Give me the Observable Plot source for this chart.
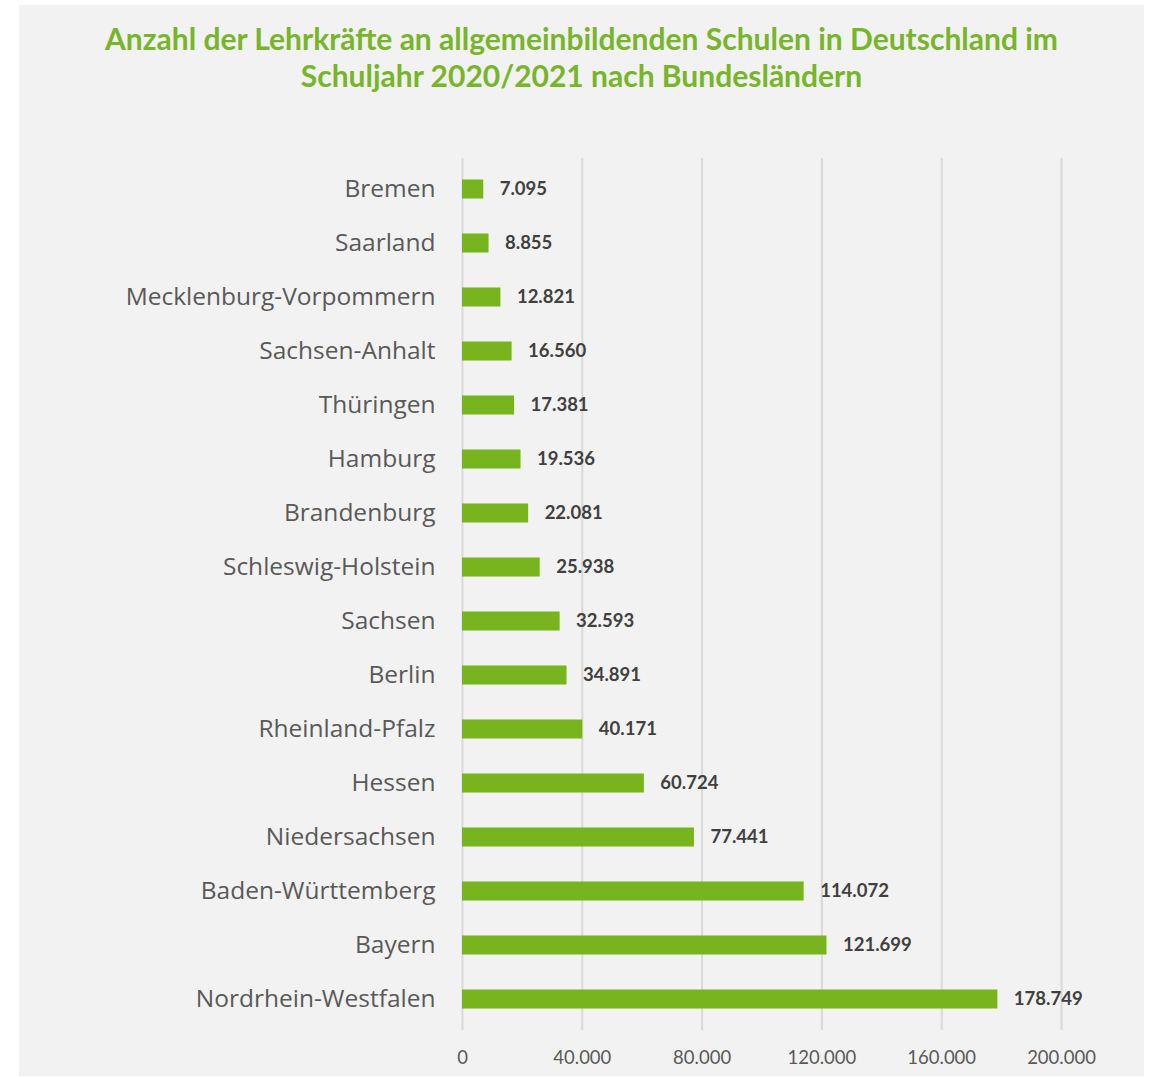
<!DOCTYPE html>
<html>
<head>
<meta charset="utf-8">
<script src="https://cdn.jsdelivr.net/npm/d3@7"></script>
<script src="https://cdn.jsdelivr.net/npm/@observablehq/plot@0.6"></script>
<style>
  html, body { margin: 0; padding: 0; background: #ffffff; }
  #panel { position: absolute; left: 19px; top: 5px; width: 1125px; height: 1071px; background: #f2f2f2; overflow: hidden; }
  #title { height: 115px; box-sizing: border-box; padding-top: 15px; text-align: center; color: #77b52b;
           font-family: Lato, "Open Sans", sans-serif; font-weight: bold; font-size: 30px; line-height: 37px; }
  #chart svg { display: block; }
</style>
</head>
<body>
<div id="panel">
  <div id="title">Anzahl der Lehrkräfte an allgemeinbildenden Schulen in Deutschland im<br>Schuljahr 2020/2021 nach Bundesländern</div>
  <div id="chart"></div>
</div>
<script>
const states = ["Bremen", "Saarland", "Mecklenburg-Vorpommern", "Sachsen-Anhalt", "Thüringen", "Hamburg",
  "Brandenburg", "Schleswig-Holstein", "Sachsen", "Berlin", "Rheinland-Pfalz", "Hessen", "Niedersachsen",
  "Baden-Württemberg", "Bayern", "Nordrhein-Westfalen"];
const teachers = [7095, 8855, 12821, 16560, 17381, 19536, 22081, 25938, 32593, 34891, 40171, 60724, 77441,
  114072, 121699, 178749];
const xTicks = [0, 40000, 80000, 120000, 160000, 200000];

const data = states.map((s, i) => ({state: s, value: teachers[i]}));
const de = d3.formatLocale({decimal: ",", thousands: ".", grouping: [3], currency: ["", " €"]});
const fmt = de.format(",d");

const chart = Plot.plot({
  width: 1125,
  height: 956,
  marginTop: 38,
  marginBottom: 46,
  marginLeft: 443,
  marginRight: 83,
  style: {background: "transparent", fontFamily: "Lato, 'Open Sans', sans-serif"},
  x: {domain: [0, 200000], ticks: xTicks, tickFormat: fmt},
  y: {domain: states, padding: 0},
  marks: [
    Plot.ruleX(xTicks, {stroke: "#d9d9d9", strokeWidth: 2, strokeOpacity: 1}),
    Plot.barX(data, {x: "value", y: "state", fill: "#78b41e", insetTop: 17.5, insetBottom: 17.5}),
    Plot.text(data, {x: "value", y: "state", text: d => fmt(d.value), textAnchor: "start", dx: 16,
      fill: "#404040", fontWeight: "bold", fontSize: 18.5}),
    Plot.axisX({ticks: xTicks, tickFormat: fmt, tickSize: 0, tickPadding: 20, fontSize: 18.5, color: "#595959", label: null,
      fontFamily: "Lato, 'Open Sans', sans-serif"}),
    Plot.axisY({tickSize: 0, tickPadding: 27, fontSize: 24.5, color: "#595959", label: null,
      fontFamily: "'Open Sans', sans-serif"})
  ]
});
document.getElementById("chart").appendChild(chart);
</script>
</body>
</html>
